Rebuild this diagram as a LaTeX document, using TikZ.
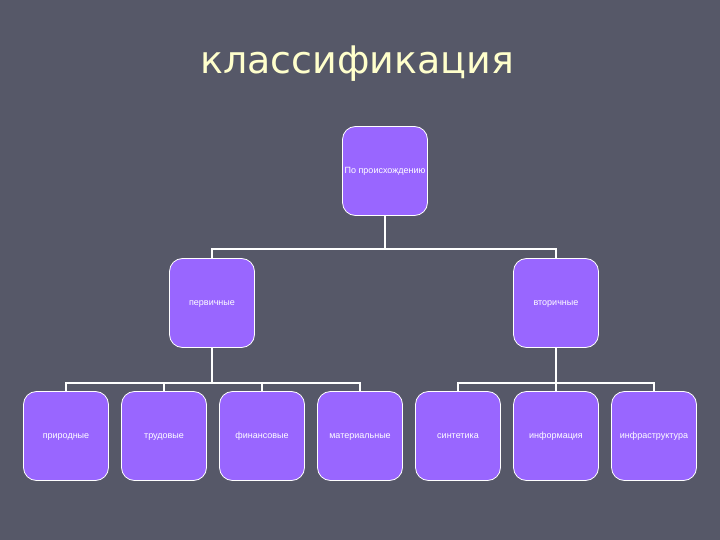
\documentclass[tikz,border=0pt]{standalone}
\usepackage{fontspec}
\setmainfont{Liberation Sans}
\newfontfamily\titlefont{DejaVu Sans}
\usepackage{xcolor}
\usepackage{tikz}
\usetikzlibrary{calc}
\definecolor{slate}{RGB}{86,88,104}
\definecolor{boxfill}{RGB}{153,102,255}
\definecolor{titlecream}{RGB}{255,255,204}
\tikzset{
  wire/.style={line width=2pt,draw=white},
  kind/.style={draw=white,line width=0.8pt,rounded corners=13pt,fill=boxfill,minimum width=85pt,minimum height=89pt,inner sep=0pt,align=center,text height=7pt,text depth=2pt,font=\fontsize{9}{11}\selectfont,text=white}
}

\begin{document}
\begin{tikzpicture}[x=1pt,y=-1pt]
  \fill[slate] (0,0) rectangle (720,540);
  \useasboundingbox (0,0) rectangle (720,540);
  \node[font=\titlefont\fontsize{38}{44}\selectfont,text=titlecream] (title) at (357,64) {классификация};
  \node[kind] (root) at (385,171) {По происхождению};
  \node[kind] (prim) at (212,303) {первичные};
  \node[kind] (sec) at (556,303) {вторичные};
  \node[kind] (nat) at (66,436) {природные};
  \node[kind] (lab) at (164,436) {трудовые};
  \node[kind] (fin) at (262,436) {финансовые};
  \node[kind] (mat) at (360,436) {материальные};
  \node[kind] (syn) at (458,436) {синтетика};
  \node[kind] (inf) at (556,436) {информация};
  \node[kind] (infra) at (654,436) {инфраструктура};
  \coordinate (top) at (385,249);
  \coordinate (left) at (212,383);
  \coordinate (right) at (556,383);
  \draw[wire] (root.south) -- (top);
  \draw[wire] (top) -| (prim.north);
  \draw[wire] (top) -| (sec.north);
  \draw[wire] (prim.south) -- (left);
  \draw[wire] (left) -| (nat.north);
  \draw[wire] (left) -| (lab.north);
  \draw[wire] (left) -| (fin.north);
  \draw[wire] (left) -| (mat.north);
  \draw[wire] (sec.south) -- (right);
  \draw[wire] (right) -| (syn.north);
  \draw[wire] (right) -- (inf.north);
  \draw[wire] (right) -| (infra.north);
\end{tikzpicture}
\end{document}
